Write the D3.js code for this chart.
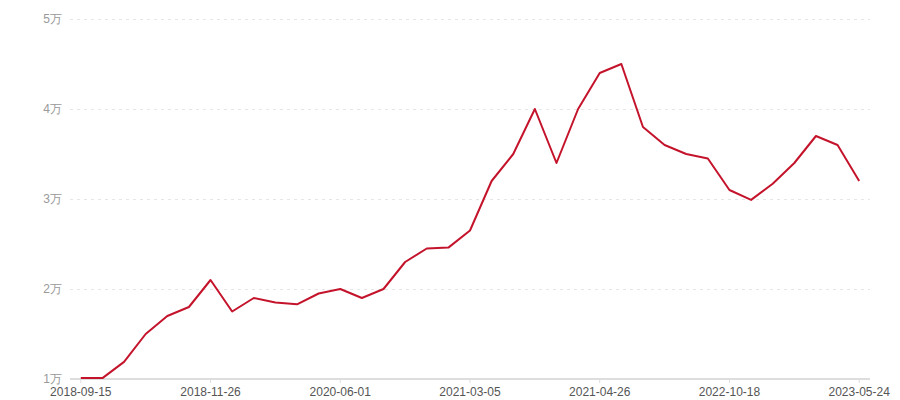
<!DOCTYPE html>
<html>
<head>
<meta charset="utf-8">
<script src="https://cdn.jsdelivr.net/npm/d3@7"></script>
<style>
  body { margin: 0; background: #fff; }
  svg { display: block; font-family: "Microsoft YaHei", "Noto Sans CJK SC", sans-serif; }
</style>
</head>
<body>
<div id="chart"></div>
<script>
// category slots (37 points), only every 6th one is labelled on the axis
const categories = d3.range(37);
const tickLabels = ["2018-09-15", "2018-11-26", "2020-06-01", "2021-03-05", "2021-04-26", "2022-10-18", "2023-05-24"];
const yTicks = [10000, 20000, 30000, 40000, 50000];
const values = [
    10100, 10100, 11900, 15000, 17000, 18000, 21000, 17500, 19000, 18500,
    18300, 19500, 20000, 19000, 20000, 23000, 24500, 24600, 26500, 32000,
    35000, 40000, 34000, 40000, 44000, 45000, 38000, 36000, 35000, 34500,
    31000, 29900, 31700, 34000, 37000, 36000, 32000
];

const W = 900, H = 400;
const margin = { top: 19, right: 30, bottom: 21, left: 70 };
const width = W - margin.left - margin.right;
const height = H - margin.top - margin.bottom;

const svg = d3.select("#chart").append("svg")
    .attr("width", W)
    .attr("height", H);

const g = svg.append("g")
    .attr("transform", `translate(${margin.left},${margin.top})`);

const x = d3.scaleBand()
    .domain(categories)
    .range([0, width]);

const y = d3.scaleLinear()
    .domain([10000, 50000])
    .range([height, 0]);

// dashed grid + y labels
const yAxis = d3.axisLeft(y)
    .tickValues(yTicks)
    .tickSize(-width)
    .tickPadding(8)
    .tickFormat(d => (d / 10000) + "万");
const yg = g.append("g").call(yAxis);
yg.select(".domain").remove();
yg.selectAll("line")
    .attr("stroke", "#e6e6e6")
    .attr("stroke-dasharray", "3,4")
    .filter(d => d === 10000).remove();
yg.selectAll("text")
    .attr("fill", "#999")
    .style("font-size", "12px");

// x axis
const xAxis = d3.axisBottom(x)
    .tickValues(categories.filter(i => i % 6 === 0))
    .tickSize(4)
    .tickPadding(4)
    .tickFormat(i => tickLabels[i / 6]);
const xg = g.append("g")
    .attr("transform", `translate(0,${height})`)
    .call(xAxis);
xg.select(".domain")
    .attr("stroke", "#ddd")
    .attr("stroke-width", 2)
    .attr("d", `M0,0H${width}`);
xg.selectAll("line").attr("stroke", "#ddd");
xg.selectAll("text")
    .attr("fill", "#555")
    .style("font-size", "12px");

// line
const line = d3.line()
    .x((d, i) => x(categories[i]) + x.bandwidth() / 2)
    .y(d => y(d));

g.append("path")
    .datum(values)
    .attr("fill", "none")
    .attr("stroke", "#c4142c")
    .attr("stroke-width", 2)
    .attr("stroke-linejoin", "round")
    .attr("d", line);
</script>
</body>
</html>
